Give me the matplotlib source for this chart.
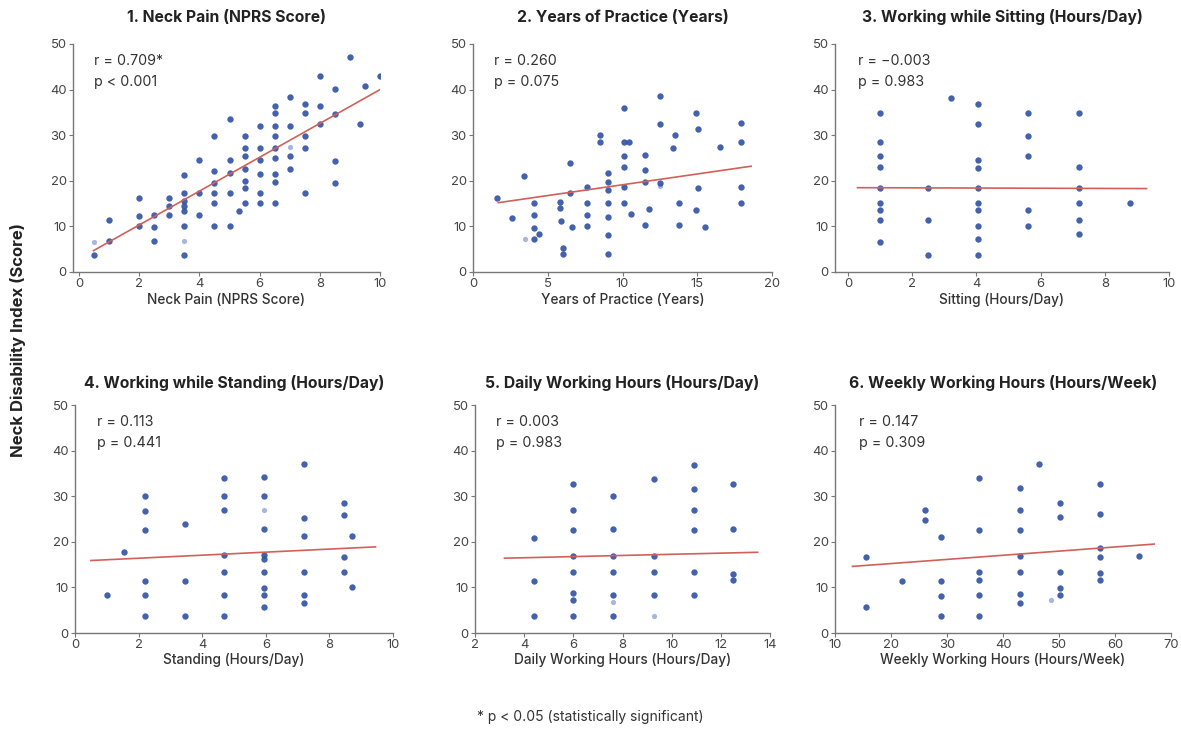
import matplotlib
matplotlib.use('Agg')
import matplotlib.pyplot as plt

plt.rcParams['font.family'] = ['Inter', 'DejaVu Sans']

# ---- data ----
titles = ['1. Neck Pain (NPRS Score)', '2. Years of Practice (Years)',
          '3. Working while Sitting (Hours/Day)', '4. Working while Standing (Hours/Day)',
          '5. Daily Working Hours (Hours/Day)', '6. Weekly Working Hours (Hours/Week)']
xlabels = ['Neck Pain (NPRS Score)', 'Years of Practice (Years)', 'Sitting (Hours/Day)',
           'Standing (Hours/Day)', 'Daily Working Hours (Hours/Day)',
           'Weekly Working Hours (Hours/Week)']
r_labels = ['r = 0.709*', 'r = 0.260', 'r = \u22120.003', 'r = 0.113', 'r = 0.003', 'r = 0.147']
p_labels = ['p < 0.001', 'p = 0.075', 'p = 0.983', 'p = 0.441', 'p = 0.983', 'p = 0.309']

pain_x = [0.5, 1, 1, 2, 2, 2, 2.5, 2.5, 2.5, 3, 3, 3,
          3.5, 3.5, 3.5, 3.5, 3.5, 3.5, 3.5, 4, 4, 4,
          4.5, 4.5, 4.5, 4.5, 4.5, 4.5, 5, 5, 5, 5, 5, 5.3,
          5.5, 5.5, 5.5, 5.5, 5.5, 5.5, 5.5, 6, 6, 6, 6, 6, 6,
          6.5, 6.5, 6.5, 6.5, 6.5, 6.5, 6.5, 6.5, 6.5,
          7, 7, 7, 7, 7.5, 7.5, 7.5, 7.5, 7.5, 8, 8, 8,
          8.5, 8.5, 8.5, 8.5, 9, 9.35, 9.5, 10]
pain_y = [3.8, 11.4, 6.7, 16.3, 12.3, 10.1, 12.5, 9.8, 6.7, 16.3, 14.5, 12.5,
          21.2, 17.4, 15.6, 14.5, 13.4, 10.1, 3.8, 24.5, 17.4, 12.5,
          29.9, 22.1, 19.6, 17.4, 15.2, 10.1, 33.6, 24.5, 21.8, 17.4, 10.1, 13.4,
          29.9, 27.2, 25.4, 22.5, 19.9, 18.5, 15.2, 32.1, 27.2, 24.6, 21.6, 17.4, 15.2,
          36.4, 34.8, 32.1, 29.9, 27.2, 25.0, 21.4, 19.7, 15.2,
          38.4, 32.1, 25.4, 22.5, 36.8, 34.8, 29.9, 27.2, 17.4, 43.0, 36.4, 32.5,
          40.2, 34.6, 24.3, 19.6, 47.1, 32.5, 40.7, 43.0]

years_x = [1.6, 2.6, 3.4, 4.1, 4.1, 4.1, 4.1, 4.4, 5.8, 5.8, 5.9, 6.0, 6.0,
           6.5, 6.5, 6.6, 7.6, 7.6, 7.6, 7.6, 8.5, 8.5,
           9, 9, 9, 9, 9, 9, 9, 10.1, 10.1, 10.1, 10.1, 10.1, 10.1, 10.45, 10.6,
           11.5, 11.5, 11.5, 11.5, 11.75, 12.5, 12.5, 12.5, 13.4, 13.5, 13.8, 13.8,
           14.9, 14.9, 15.05, 15.05, 15.5, 16.5, 17.9, 17.9, 17.9, 17.9]
years_y = [16.3, 11.9, 21.0, 15.2, 12.4, 9.6, 7.2, 8.4, 15.3, 14.1, 11.1, 5.3, 4.0,
           23.9, 17.4, 9.9, 18.6, 15.2, 12.6, 10.1, 30.1, 28.6,
           21.8, 19.7, 17.9, 15.2, 12.0, 8.2, 3.9, 36.0, 28.6, 25.5, 23.0, 18.6, 15.2, 28.6, 12.8,
           25.7, 22.3, 19.7, 10.2, 13.9, 38.7, 32.5, 19.6, 27.2, 30.1, 15.2, 10.2,
           34.9, 13.7, 31.4, 18.4, 9.9, 27.4, 32.7, 28.6, 18.6, 15.2]

sit_x = [1] * 9 + [2.5] * 3 + [3.2] + [4.05] * 10 + [5.6] * 5 + [7.2] * 6 + [8.8]
sit_y = [34.8, 28.4, 25.5, 23.0, 18.5, 15.2, 13.6, 11.4, 6.5,
         18.5, 11.4, 3.8, 38.2,
         36.8, 32.4, 24.6, 22.8, 18.5, 15.2, 13.6, 10.0, 7.2, 3.8,
         34.8, 29.9, 25.4, 13.6, 10.0,
         34.8, 23.0, 18.5, 15.2, 11.4, 8.3, 15.2]

stand_x = [1.0, 1.55] + [2.2] * 6 + [3.45] * 3 + [4.7] * 7 + [5.95] * 9 + \
          [7.2] * 6 + [8.45] * 4 + [8.7] * 2
stand_y = [8.3, 17.8, 30.1, 26.8, 22.6, 11.3, 8.3, 3.8, 24.0, 11.3, 3.8,
           34.1, 30.1, 27.0, 17.2, 13.3, 8.4, 3.8,
           34.3, 30.1, 22.8, 17.0, 16.3, 13.3, 9.9, 8.4, 5.6,
           37.1, 25.2, 21.2, 13.3, 8.4, 6.6, 28.6, 25.8, 16.7, 13.3, 21.2, 10.0]

daily_x = [4.4] * 3 + [6.0] * 8 + [7.6] * 6 + [9.3] * 4 + [10.9] * 6 + [12.5] * 4
daily_y = [20.9, 11.3, 3.8, 32.7, 26.9, 22.6, 16.8, 13.4, 8.8, 7.2, 3.8,
           30.1, 22.9, 16.8, 13.4, 8.4, 3.8, 33.8, 16.8, 13.4, 8.4,
           36.9, 31.6, 26.9, 22.6, 13.4, 8.4, 32.7, 22.9, 12.9, 11.6]

weekly_x = [15.6] * 2 + [21.9] + [26.1] * 2 + [28.9] * 4 + [35.8] * 6 + [43.0] * 7 + \
           [46.4] + [50.2] * 5 + [57.3] * 6 + [64.3]
weekly_y = [16.7, 5.7, 11.3, 26.9, 24.7, 21.0, 11.3, 8.2, 3.8,
            33.9, 22.6, 13.4, 11.6, 8.3, 3.8, 31.8, 26.9, 22.6, 16.8, 13.4, 8.6, 6.5,
            37.1, 28.6, 25.4, 13.4, 9.9, 8.4, 32.7, 26.1, 18.6, 16.7, 13.2, 11.6, 16.8]

# pale, half-hidden points
faint_x = [[0.5, 3.5, 7.0], [3.5, 12.5], [], [5.95], [7.6, 9.3], [48.5]]
faint_y = [[6.5, 6.9, 27.5], [7.2, 18.8], [], [26.9], [6.9, 3.8], [7.3]]

# trend lines: start x, end x, intercept, slope
trend_x0 = [0.48, 1.7, 0.3, 0.5, 3.2, 13.1]
trend_x1 = [10.0, 18.6, 9.3, 9.45, 13.5, 67.0]
trend_b = [2.9, 14.4, 18.5, 15.73, 16.0, 13.41]
trend_m = [3.71, 0.473, -0.022, 0.334, 0.126, 0.0909]

xs = [pain_x, years_x, sit_x, stand_x, daily_x, weekly_x]
ys = [pain_y, years_y, sit_y, stand_y, daily_y, weekly_y]
xlims = [(-0.2, 10), (0, 20), (-0.4, 10), (0, 10), (2, 14), (10, 70)]
xticks = [range(0, 11, 2), range(0, 21, 5), range(0, 11, 2), range(0, 11, 2),
          range(2, 15, 2), range(10, 71, 10)]

W, H = 1181, 731
fig = plt.figure(figsize=(W / 100, H / 100), dpi=100)

# axes boxes in pixels: left, right, top, bottom
boxes = [(73, 380, 44, 272), (473, 772, 44, 272), (835, 1169, 44, 272),
         (75, 393, 405, 633), (475, 770, 405, 633), (835, 1171, 405, 633)]
title_y = [17, 17, 17, 383, 383, 383]
xlabel_y = [300, 300, 300, 660, 660, 660]

dot = '#2f51a2'
grey = '#777777'
for i in range(6):
    l, r, t, b = boxes[i]
    hpx = b - t
    ax = fig.add_axes([l / W, 1 - b / H, (r - l) / W, hpx / H])
    ax.scatter(xs[i], ys[i], s=21, color=dot, alpha=0.9, linewidths=0, zorder=3)
    if faint_x[i]:
        ax.scatter(faint_x[i], faint_y[i], s=14, color='#a9b6dc', linewidths=0, zorder=2)
    lx = [trend_x0[i], trend_x1[i]]
    ly = [trend_b[i] + trend_m[i] * v for v in lx]
    ax.plot(lx, ly, color='#d2605a', lw=1.2, zorder=4)

    ax.set_xlim(*xlims[i])
    ax.set_ylim(0, 50)
    ax.set_xticks(list(xticks[i]))
    ax.set_yticks(range(0, 51, 10))
    for s in ['top', 'right']:
        ax.spines[s].set_visible(False)
    for s in ['left', 'bottom']:
        ax.spines[s].set_color(grey)
        ax.spines[s].set_linewidth(1.0)
    ax.tick_params(length=3, width=0.8, color=grey, labelsize=9.4,
                   labelcolor='#444444', pad=1.5)

    ax.text(0.5, 1 + (t - title_y[i]) / hpx, titles[i], transform=ax.transAxes,
            fontsize=11.3, fontweight='bold', color='#222222', ha='center', va='center')
    ax.text(0.5, -(xlabel_y[i] - b) / hpx, xlabels[i], transform=ax.transAxes,
            fontsize=9.8, color='#333333', fontweight='medium', ha='center', va='center')
    ax.text(0.07, 0.925, r_labels[i], transform=ax.transAxes, fontsize=10.3,
            color='#333333', va='center')
    ax.text(0.07, 0.835, p_labels[i], transform=ax.transAxes, fontsize=10.3,
            color='#333333', va='center')

fig.text(18 / W, 1 - 340 / H, 'Neck Disability Index (Score)', rotation=90,
         fontsize=12, fontweight='bold', color='#222222', ha='center', va='center')
fig.text(590 / W, 1 - 717 / H, '* p < 0.05 (statistically significant)',
         fontsize=10, color='#333333', ha='center', va='center')

fig.savefig('out.png', dpi=100, facecolor='white')
